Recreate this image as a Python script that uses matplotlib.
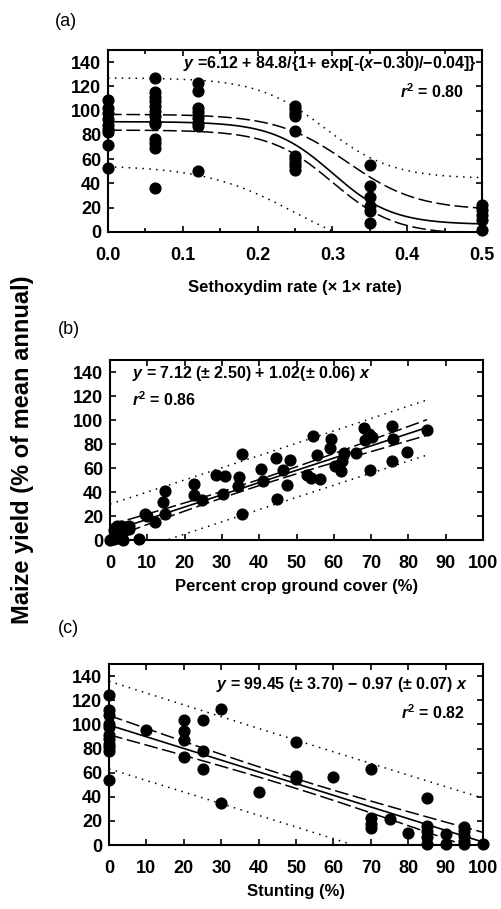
import matplotlib
matplotlib.use('Agg')
import matplotlib.pyplot as plt
import numpy as np

plt.rcParams['font.family'] = ['Liberation Sans', 'DejaVu Sans']
plt.rcParams['mathtext.fontset'] = 'custom'
plt.rcParams['mathtext.rm'] = 'Liberation Sans:bold'
plt.rcParams['mathtext.it'] = 'Liberation Sans:italic:bold'
plt.rcParams['mathtext.bf'] = 'Liberation Sans:bold'

# ---- panel (a): sethoxydim rate ----
rate_x = [0.0] * 9 + [0.0625] * 13 + [0.12] * 8 + [0.25] * 10 + [0.35] * 6 + [0.5] * 5
rate_y = [109, 102, 98, 93, 88, 85, 82, 72, 53,
          127, 115, 111, 108, 104, 100, 96, 91, 89, 77, 73, 69, 36,
          123, 116, 102, 99, 94, 90, 87, 50,
          104, 101, 98, 96, 83, 63, 60, 57, 54, 51,
          55, 38, 29, 21, 17, 7,
          22, 18, 14, 10, 2]
# logistic curves: base, amp, centre, scale  (y = base + amp / (1 + exp(-(x - c) / d)))
fit_a = [6.12, 84.8, 0.30, -0.04]
conf_hi_a = [18, 79, 0.32, -0.047]
conf_lo_a = [-2, 86, 0.30, -0.042]
pred_hi_a = [44, 83, 0.29, -0.045]
pred_lo_a = [-23, 78, 0.25, -0.061]

# ---- panel (b): ground cover ----
cover_x = [0, 0.5, 3.6, 7.7, 1, 1, 2, 2, 3, 3, 4, 4, 5, 5, 1, 2,
           9.5, 10, 12, 14.2, 14.7, 14.7, 22.5, 22.5, 24.7, 28.4, 30.7, 30.2,
           34.5, 34.2, 35.4, 35.5, 40.4, 40.9, 44.4, 44.9, 46.5, 47.5, 48.3,
           52.9, 53.8, 54.5, 55.4, 56.4, 59.3, 59.1, 60.2, 61.8, 62.2, 62.7,
           66, 68.2, 69.3, 70.2, 68.4, 69.8, 75.6, 76, 75.6, 79.6, 84.9]
cover_y = [0, 0.5, 0, 0.5, 3, 8, 10, 12, 5, 12, 11, 8, 12, 9, 1, 2,
           21.8, 20, 15, 32, 41, 22, 47, 37.4, 33, 54.6, 53, 38,
           52.7, 45, 72, 22, 59, 49, 68, 34, 58.4, 45.6, 67,
           53.8, 51.9, 87, 71, 50.5, 84.6, 76.4, 62, 57.3, 65.5, 72.3,
           72.3, 93, 88.7, 86, 83, 58.7, 95, 84, 65.5, 73.7, 91.4]
fit_b = [7.12, 1.02]
# hyperbolic bands: half width = sqrt(a^2 + (b*(x - xm))^2)
conf_b = [2.5, 0.128, 38]
pred_b = [22.5, 0.10, 38]

# ---- panel (c): stunting ----
stunt_x = [0] * 11 + [10] + [20] * 4 + [25] * 3 + [30] * 2 + [40] + [50] * 3 + [60] + \
          [70] * 4 + [75] + [80] + [85] * 5 + [90] * 2 + [95] * 5 + [100]
stunt_y = [124, 112, 108, 100, 98, 91, 88, 84, 81, 78, 54,
           95,
           104, 94.5, 86.7, 73,
           104, 78, 62.7,
           113, 34.5,
           44,
           85.6, 57, 55,
           56.4,
           63, 22.7, 17.7, 14,
           21.3,
           10.2,
           38.7, 15.7, 11.6, 6.6, 0.5,
           8.8, 0.5,
           15, 11.6, 7.5, 3.3, 0.5,
           0.5]
fit_c = [99.45, -0.97]
conf_c = [4, 0.139, 50]
pred_c = [36, 0.10, 50]

y_ticks = np.arange(0, 141, 20)
tick_font = {'fontsize': 13, 'fontweight': 'bold'}
eq_font = {'fontsize': 11.5, 'fontweight': 'bold'}
dash = (0, (9, 3))
dot = (0, (1, 3.5))


def logistic(x, p):
    return p[0] + p[1] / (1 + np.exp(-(x - p[2]) / p[3]))


def half_width(x, p):
    return np.sqrt(p[0] ** 2 + (p[1] * (x - p[2])) ** 2)


def style_axes(ax, xmax, xmajor, xminor):
    ax.set_xlim(0, xmax)
    ax.set_ylim(0, 150)
    ax.set_yticks(y_ticks)
    ax.set_xticks(np.arange(0, xmax + xmajor / 2, xmajor))
    ax.set_xticks(np.arange(0, xmax + xminor / 2, xminor), minor=True)
    ax.tick_params(which='both', direction='in', top=True, right=True, width=1.2)
    ax.tick_params(which='major', length=4, pad=5)
    ax.tick_params(axis='x', which='major', pad=11)
    ax.tick_params(which='minor', length=3)
    for lab in ax.get_xticklabels() + ax.get_yticklabels():
        lab.set_fontsize(tick_font['fontsize'])
        lab.set_fontweight(tick_font['fontweight'])
    for sp in ax.spines.values():
        sp.set_linewidth(1.5)


fig = plt.figure(figsize=(5.01, 9.09), dpi=100)

# panel a
ax_a = fig.add_axes([0.2156, 0.7448, 0.7465, 0.2002])
xa = np.linspace(0, 0.5, 300)
ax_a.plot(xa, logistic(xa, fit_a), color='black', lw=1.2)
ax_a.plot(xa, logistic(xa, conf_hi_a), color='black', lw=1.1, ls=dash)
ax_a.plot(xa, logistic(xa, conf_lo_a), color='black', lw=1.1, ls=dash)
ax_a.plot(xa, logistic(xa, pred_hi_a), color='black', lw=1.1, ls=dot)
ax_a.plot(xa, logistic(xa, pred_lo_a), color='black', lw=1.1, ls=dot)
ax_a.scatter(rate_x, rate_y, s=60, color='black', zorder=3, clip_on=False)
style_axes(ax_a, 0.5, 0.1, 0.05)
ax_a.set_xticklabels(['0.0', '0.1', '0.2', '0.3', '0.4', '0.5'], **tick_font)
ax_a.text(0.985, 0.925, r'$\it{y}$ =6.12 + 84.8/{1+ exp[-($\it{x}$$-$0.30)/$-$0.04]}',
          transform=ax_a.transAxes, ha='right', va='center', **eq_font)
ax_a.text(0.95, 0.77, r'$\it{r}$$^2$ = 0.80', transform=ax_a.transAxes,
          ha='right', va='center', **eq_font)
ax_a.set_xlabel('Sethoxydim rate (× 1× rate)', fontsize=12, fontweight='bold', labelpad=11)
fig.text(0.11, 0.976, '(a)', fontsize=13, ha='left', va='center')

# panel b
ax_b = fig.add_axes([0.2196, 0.4059, 0.7445, 0.198])
xb = np.linspace(0, 85, 200)
yb = fit_b[0] + fit_b[1] * xb
ax_b.plot(xb, yb, color='black', lw=1.2)
ax_b.plot(xb, yb + half_width(xb, conf_b), color='black', lw=1.1, ls=dash)
ax_b.plot(xb, yb - half_width(xb, conf_b), color='black', lw=1.1, ls=dash)
ax_b.plot(xb, yb + half_width(xb, pred_b), color='black', lw=1.1, ls=dot)
ax_b.plot(xb, yb - half_width(xb, pred_b), color='black', lw=1.1, ls=dot)
ax_b.scatter(cover_x, cover_y, s=60, color='black', zorder=3, clip_on=False)
style_axes(ax_b, 100, 10, 10)
ax_b.text(0.06, 0.925, r'$\it{y}$ = 7.12 ($\pm$ 2.50) + 1.02($\pm$ 0.06) $\it{x}$',
          transform=ax_b.transAxes, ha='left', va='center', **eq_font)
ax_b.text(0.06, 0.78, r'$\it{r}$$^2$ = 0.86', transform=ax_b.transAxes,
          ha='left', va='center', **eq_font)
ax_b.set_xlabel('Percent crop ground cover (%)', fontsize=12, fontweight='bold', labelpad=5)
fig.text(0.115, 0.638, '(b)', fontsize=13, ha='left', va='center')

# panel c
ax_c = fig.add_axes([0.2176, 0.0704, 0.7465, 0.199])
xc = np.linspace(0, 100, 200)
yc = fit_c[0] + fit_c[1] * xc
ax_c.plot(xc, yc, color='black', lw=1.2)
ax_c.plot(xc, yc + half_width(xc, conf_c), color='black', lw=1.1, ls=dash)
ax_c.plot(xc, yc - half_width(xc, conf_c), color='black', lw=1.1, ls=dash)
ax_c.plot(xc, yc + half_width(xc, pred_c), color='black', lw=1.1, ls=dot)
ax_c.plot(xc, yc - half_width(xc, pred_c), color='black', lw=1.1, ls=dot)
ax_c.scatter(stunt_x, stunt_y, s=60, color='black', zorder=3, clip_on=False)
style_axes(ax_c, 100, 10, 10)
ax_c.text(0.96, 0.89, r'$\it{y}$ = 99.45 ($\pm$ 3.70) $-$ 0.97 ($\pm$ 0.07) $\it{x}$',
          transform=ax_c.transAxes, ha='right', va='center', **eq_font)
ax_c.text(0.95, 0.73, r'$\it{r}$$^2$ = 0.82', transform=ax_c.transAxes,
          ha='right', va='center', **eq_font)
ax_c.set_xlabel('Stunting (%)', fontsize=12, fontweight='bold', labelpad=5)
fig.text(0.115, 0.309, '(c)', fontsize=13, ha='left', va='center')

fig.text(0.045, 0.505, 'Maize yield (% of mean annual)', rotation=90,
         fontsize=17, fontweight='bold', ha='center', va='center')

fig.savefig('out.png', dpi=100)
